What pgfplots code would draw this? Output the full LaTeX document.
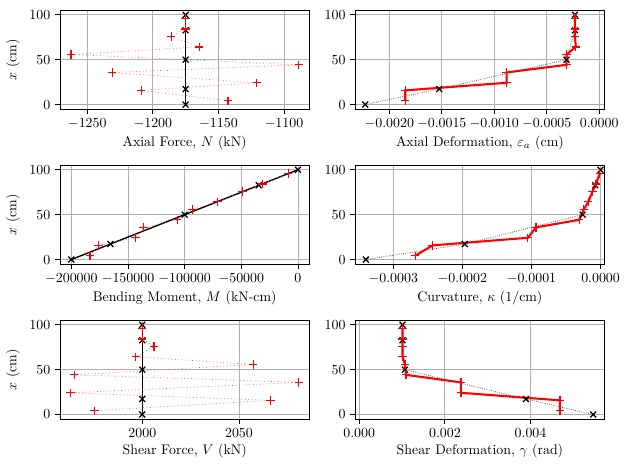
\documentclass[border=0pt]{standalone}
\usepackage{pgfplots}
\pgfplotsset{compat=1.18}
\definecolor{gridgray}{RGB}{176,176,176}
\pgfplotsset{
  base/.style={
    scale only axis, width=179.5pt, height=71.1pt, anchor=north west,
    ymin=-5, ymax=105, ytick={0,50,100},
    grid=major, major grid style={gridgray, line width=0.6pt},
    tick align=outside, tick pos=left, major tick length=3.5pt,
    tick style={black, line width=0.6pt},
    axis line style={line width=0.6pt},
    scaled x ticks=false, scaled y ticks=false,
    /pgf/number format/1000 sep={},
    xlabel style={yshift=2pt},
  },
  forceblk/.style={black, line width=1pt, mark=x, mark size=3pt, mark options={solid, black, line width=0.9pt}},
  forcered/.style={red!70, dotted, line width=0.5pt, mark=+, mark size=3pt, mark options={solid, red, line width=0.9pt}},
  defblk/.style={black!60, densely dotted, line width=0.6pt, mark=x, mark size=3pt, mark options={solid, black, line width=0.9pt}},
  defred/.style={red, line width=1.5pt, mark=+, mark size=3pt, mark options={solid, red, line width=0.9pt}},
}
\begin{document}
\begin{tikzpicture}
\useasboundingbox (0,0) rectangle (452.9pt,338.4pt);

% Axial force
\begin{axis}[base, at={(43.2pt,331.0pt)},
  xmin=-1270.8, xmax=-1080.7, xtick={-1250,-1200,-1150,-1100},
  xlabel={Axial Force, $N$ (kN)}, ylabel={$x$ (cm)}]
\addplot[forceblk] coordinates {(-1175,0) (-1175,17.27) (-1175,50) (-1175,82.73) (-1175,100)};
\addplot[forcered] coordinates {(-1142.7,4.23) (-1208.8,15.77) (-1120.8,24.23) (-1231,35.77) (-1088.8,44.23) (-1262.4,55.77) (-1164.6,64.23) (-1186,75.77) (-1175,84.23) (-1175,95.77)};
\end{axis}

% Axial deformation
\begin{axis}[base, at={(255.8pt,331.0pt)},
  xmin=-0.002324, xmax=0.0000514, xtick={-0.002,-0.0015,-0.001,-0.0005,0},
  xticklabel style={/pgf/number format/.cd, fixed, fixed zerofill, precision=4},
  xlabel={Axial Deformation, $\varepsilon_a$ (cm)}]
\addplot[defblk] coordinates {(-0.002229,0) (-0.001524,17.27) (-0.000311,50) (-0.000231,82.73) (-0.000231,100)};
\addplot[defred] coordinates {(-0.001848,4.23) (-0.001848,15.77) (-0.000882,24.23) (-0.000882,35.77) (-0.000311,44.23) (-0.000311,55.77) (-0.000222,64.23) (-0.000231,75.77) (-0.000231,84.23) (-0.000231,95.77)};
\end{axis}

% Bending moment
\begin{axis}[base, at={(43.2pt,219.4pt)},
  xmin=-210000, xmax=10000, xtick={-200000,-150000,-100000,-50000,0},
  xticklabel style={/pgf/number format/.cd, fixed, precision=0},
  xlabel={Bending Moment, $M$ (kN-cm)}, ylabel={$x$ (cm)}]
\addplot[forceblk] coordinates {(-200000,0) (-165460,17.27) (-100000,50) (-34540,82.73) (0,100)};
\addplot[forcered] coordinates {(-183554,4.23) (-175918,15.77) (-143319,24.23) (-136270,35.77) (-106608,44.23) (-93099,55.77) (-71072,64.23) (-49046,75.77) (-31425,84.23) (-8517,95.77)};
\end{axis}

% Curvature
\begin{axis}[base, at={(255.8pt,219.4pt)},
  xmin=-0.000355, xmax=0.0000058, xtick={-0.0003,-0.0002,-0.0001,0},
  xticklabel style={/pgf/number format/.cd, fixed, fixed zerofill, precision=4},
  xlabel={Curvature, $\kappa$ (1/cm)}]
\addplot[defblk] coordinates {(-0.0003397,0) (-0.0001964,17.27) (-0.000026,50) (-0.0000078,82.73) (0,100)};
\addplot[defred] coordinates {(-0.0002683,4.23) (-0.0002431,15.77) (-0.0001052,24.23) (-0.0000936,35.77) (-0.000031,44.23) (-0.0000242,55.77) (-0.0000179,64.23) (-0.0000116,75.77) (-0.0000068,84.23) (-0.000001,95.77)};
\end{axis}

% Shear force
\begin{axis}[base, at={(43.2pt,107.8pt)},
  xmin=1957.4, xmax=2086.4, xtick={2000,2050},
  xlabel={Shear Force, $V$ (kN)}, ylabel={$x$ (cm)}]
\addplot[forceblk] coordinates {(2000,0) (2000,17.27) (2000,50) (2000,82.73) (2000,100)};
\addplot[forcered] coordinates {(1975.3,4.23) (2066.4,15.77) (1962.9,24.23) (2081,35.77) (1964.8,44.23) (2057.4,55.77) (1996.6,64.23) (2006,75.77) (2000,84.23) (2000,95.77)};
\end{axis}

% Shear deformation
\begin{axis}[base, at={(255.8pt,107.8pt)},
  xmin=-0.0000934, xmax=0.005729, xtick={0,0.002,0.004},
  xticklabel style={/pgf/number format/.cd, fixed, fixed zerofill, precision=3},
  xlabel={Shear Deformation, $\gamma$ (rad)}]
\addplot[defblk] coordinates {(0.005464,0) (0.003892,17.27) (0.001067,50) (0.001012,82.73) (0.001012,100)};
\addplot[defred] coordinates {(0.004686,4.23) (0.004686,15.77) (0.002374,24.23) (0.002374,35.77) (0.00109,44.23) (0.001067,55.77) (0.00101,64.23) (0.00101,75.77) (0.00101,84.23) (0.00101,95.77)};
\end{axis}
\end{tikzpicture}
\end{document}
